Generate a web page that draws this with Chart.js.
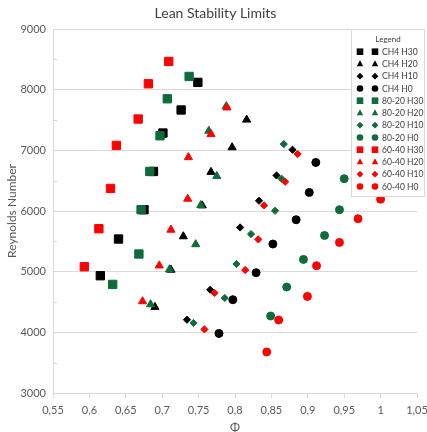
<!DOCTYPE html>
<html>
<head>
<title>Lean Stability Limits</title>
<script src="https://cdn.jsdelivr.net/npm/chart.js"></script>
<style>
    body { margin: 0; background: #fff; }
    #wrap { width: 427px; height: 432px; }
</style>
</head>
<body>
<div id="wrap"><canvas id="chart"></canvas></div>
<script>
// values (phi, Reynolds number)
const ch4H30Phi = [0.749, 0.726, 0.701, 0.688, 0.675, 0.640, 0.615];
const ch4H30Re  = [8120, 7665, 7285, 6652, 6021, 5538, 4933];
const ch4H20Phi = [0.816, 0.796, 0.767, 0.755, 0.729, 0.712, 0.690];
const ch4H20Re  = [7504, 7048, 6642, 6090, 5581, 5030, 4417];
const ch4H10Phi = [0.879, 0.857, 0.833, 0.807, 0.766, 0.734];
const ch4H10Re  = [7010, 6586, 6169, 5729, 4702, 4208];
const ch4H0Phi  = [0.911, 0.902, 0.884, 0.852, 0.829, 0.797, 0.778];
const ch4H0Re   = [6800, 6306, 5856, 5456, 4983, 4538, 3982];

const m8020H30Phi = [0.737, 0.707, 0.697, 0.683, 0.671, 0.668, 0.632];
const m8020H30Re  = [8218, 7850, 7240, 6652, 6021, 5291, 4790];
const m8020H20Phi = [0.788, 0.764, 0.775, 0.753, 0.746, 0.710, 0.684];
const m8020H20Re  = [7725, 7320, 6575, 6095, 5450, 5035, 4460];
const m8020H10Phi = [0.867, 0.864, 0.855, 0.822, 0.802, 0.786, 0.743];
const m8020H10Re  = [7103, 6532, 6004, 5620, 5126, 4566, 4154];
const m8020H0Phi  = [0.950, 0.9435, 0.923, 0.894, 0.871, 0.849];
const m8020H0Re   = [6532, 6021, 5597, 5202, 4747, 4269];

const m6040H30Phi = [0.709, 0.681, 0.667, 0.637, 0.629, 0.613, 0.593];
const m6040H30Re  = [8465, 8097, 7516, 7081, 6372, 5708, 5081];
const m6040H20Phi = [0.789, 0.767, 0.736, 0.735, 0.712, 0.696, 0.673];
const m6040H20Re  = [7705, 7265, 6885, 6200, 5690, 5100, 4510];
const m6040H10Phi = [0.886, 0.869, 0.840, 0.832, 0.814, 0.772, 0.758];
const m6040H10Re  = [6939, 6482, 6092, 5531, 5027, 4648, 4048];
const m6040H0Phi  = [1.000, 0.969, 0.9435, 0.912, 0.8995, 0.860, 0.8436];
const m6040H0Re   = [6194, 5872, 5482, 5098, 4592, 4203, 3676];

const yTicks = [3000, 4000, 5000, 6000, 7000, 8000, 9000];
const minorYTicks = [3500, 4500, 5500, 6500, 7500, 8500];

const BLACK = '#000000', GREEN = '#0f6b3b', RED = '#ff0000';

const series = [
    ['CH4 H30', ch4H30Phi, ch4H30Re, BLACK, 'rect'],
    ['CH4 H20', ch4H20Phi, ch4H20Re, BLACK, 'triangle'],
    ['CH4 H10', ch4H10Phi, ch4H10Re, BLACK, 'rectRot'],
    ['CH4 H0', ch4H0Phi, ch4H0Re, BLACK, 'circle'],
    ['80-20 H30', m8020H30Phi, m8020H30Re, GREEN, 'rect'],
    ['80-20 H20', m8020H20Phi, m8020H20Re, GREEN, 'triangle'],
    ['80-20 H10', m8020H10Phi, m8020H10Re, GREEN, 'rectRot'],
    ['80-20 H0', m8020H0Phi, m8020H0Re, GREEN, 'circle'],
    ['60-40 H30', m6040H30Phi, m6040H30Re, RED, 'rect'],
    ['60-40 H20', m6040H20Phi, m6040H20Re, RED, 'triangle'],
    ['60-40 H10', m6040H10Phi, m6040H10Re, RED, 'rectRot'],
    ['60-40 H0', m6040H0Phi, m6040H0Re, RED, 'circle']
];

const radius = { rect: 5.9, triangle: 4.7, rectRot: 3.6, circle: 4 };

const datasets = series.map((s, i) => ({
    label: s[0],
    data: s[1].map((x, j) => ({ x: x, y: s[2][j] })),
    backgroundColor: s[3],
    borderColor: s[3],
    borderWidth: 1,
    pointStyle: s[4],
    pointRadius: radius[s[4]],
    pointHoverRadius: radius[s[4]],
    order: series.length - 1 - i   // later series on top, as in the original
}));

const FONT = 'Lato, "Open Sans", sans-serif';
const TEXT = '#595959';

// small marker for the legend box
function marker(ctx, style, x, y, color) {
    ctx.fillStyle = color;
    ctx.beginPath();
    if (style === 'rect') {
        ctx.rect(x - 3.3, y - 3.3, 6.6, 6.6);
    } else if (style === 'triangle') {
        ctx.moveTo(x, y - 3.6);
        ctx.lineTo(x + 3.2, y + 2.2);
        ctx.lineTo(x - 3.2, y + 2.2);
        ctx.closePath();
    } else if (style === 'rectRot') {
        ctx.moveTo(x, y - 3.4);
        ctx.lineTo(x + 3.4, y);
        ctx.lineTo(x, y + 3.4);
        ctx.lineTo(x - 3.4, y);
        ctx.closePath();
    } else {
        ctx.arc(x, y, 3.3, 0, Math.PI * 2);
    }
    ctx.fill();
}

const extras = {
    id: 'extras',
    beforeDatasetsDraw(chart) {
        // minor ticks on the inside of the y axis
        const ctx = chart.ctx, ys = chart.scales.y, a = chart.chartArea;
        ctx.save();
        ctx.strokeStyle = '#d9d9d9';
        ctx.lineWidth = 1;
        minorYTicks.forEach(v => {
            const py = Math.round(ys.getPixelForValue(v)) + 0.5;
            ctx.beginPath();
            ctx.moveTo(a.left, py);
            ctx.lineTo(a.left + 4, py);
            ctx.stroke();
        });
        ctx.restore();
    },
    afterDraw(chart) {
        const ctx = chart.ctx;
        ctx.save();
        // chart title (the original sits a little right of the canvas centre)
        ctx.fillStyle = '#404040';
        ctx.font = '14px ' + FONT;
        ctx.textAlign = 'center';
        ctx.textBaseline = 'middle';
        ctx.fillText('Lean Stability Limits', 215.5, 13.5);

        // legend box
        const bx = 351.5, by = 29.5, bw = 73, bh = 167;
        ctx.fillStyle = '#ffffff';
        ctx.fillRect(bx, by, bw, bh);
        ctx.strokeStyle = '#d9d9d9';
        ctx.lineWidth = 1;
        ctx.strokeRect(bx, by, bw, bh);
        ctx.fillStyle = '#404040';
        ctx.font = '8px ' + FONT;
        ctx.fillText('Legend', 388, 39.5);
        ctx.textAlign = 'left';
        ctx.font = '8.5px ' + FONT;
        series.forEach((s, i) => {
            const y = 51.7 + i * 12.25;
            marker(ctx, s[4], 360, y, s[3]);
            marker(ctx, s[4], 375, y, s[3]);
            ctx.fillStyle = '#404040';
            ctx.fillText(s[0], 382, y + 0.5);
        });
        ctx.restore();
    }
};

new Chart(document.getElementById('chart'), {
    type: 'scatter',
    data: { datasets: datasets },
    plugins: [extras],
    options: {
        responsive: true,
        maintainAspectRatio: false,
        animation: false,
        events: [],
        layout: { padding: { left: 0, right: 10, top: 29, bottom: 0 } },
        plugins: {
            legend: { display: false },
            tooltip: { enabled: false },
            title: { display: false }
        },
        scales: {
            x: {
                type: 'linear',
                min: 0.55,
                max: 1.05,
                afterFit: s => { s.height = 39; s.paddingLeft = 0; s.paddingRight = 0; },
                grid: { drawOnChartArea: false, drawTicks: true, tickLength: 5, color: '#d9d9d9' },
                border: { color: '#d9d9d9' },
                ticks: {
                    stepSize: 0.05,
                    padding: 6,
                    color: TEXT,
                    font: { family: FONT, size: 11 },
                    callback: v => String(Math.round(v * 100) / 100).replace('.', ',')
                },
                title: {
                    display: true,
                    text: 'Φ',
                    color: TEXT,
                    font: { family: FONT, size: 12 },
                    padding: { top: 0, bottom: -2 }
                }
            },
            y: {
                min: 3000,
                max: 9000,
                afterFit: s => { s.width = 53; s.paddingTop = 0; s.paddingBottom = 0; },
                afterBuildTicks: s => { s.ticks = yTicks.map(v => ({ value: v })); },
                grid: { drawTicks: false, color: '#d9d9d9' },
                border: { color: '#d9d9d9' },
                ticks: {
                    padding: 7,
                    color: TEXT,
                    font: { family: FONT, size: 11 },
                    callback: v => String(v)
                },
                title: {
                    display: true,
                    text: 'Reynolds Number',
                    color: TEXT,
                    font: { family: FONT, size: 12 },
                    padding: { top: 5, bottom: 0 }
                }
            }
        }
    }
});
</script>
</body>
</html>
